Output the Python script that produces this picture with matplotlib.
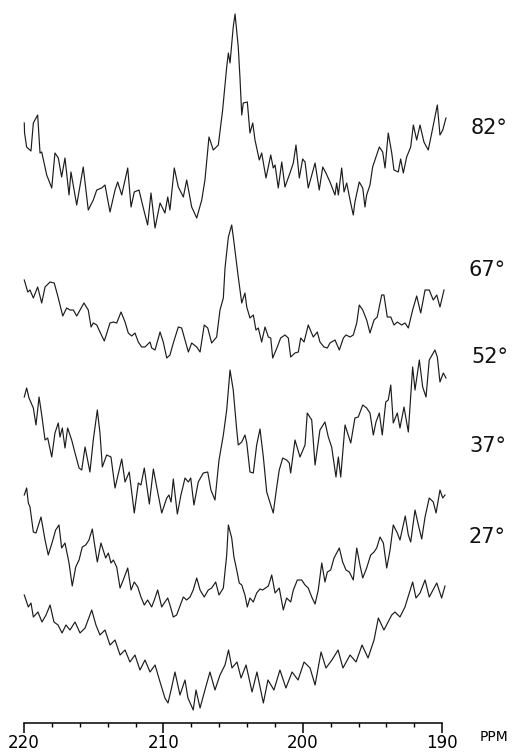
import numpy as np
import matplotlib
matplotlib.use("Agg")
from matplotlib import pyplot as plt
from matplotlib.ticker import MultipleLocator

# 13C spectra (chemical shift in ppm, intensity in arbitrary units)
ppm_82 = [219.98, 219.96, 219.81, 219.50, 219.33, 219.02, 218.85, 218.73, 218.37, 218.01,
          217.78, 217.54, 217.30, 217.06, 216.77, 216.63, 216.22, 215.75, 215.39, 215.03,
          214.78, 214.43, 214.19, 213.83, 213.47, 213.28, 212.99, 212.56, 212.32, 212.09,
          211.75, 211.44, 211.13, 210.89, 210.60, 210.24, 209.89, 209.69, 209.53, 209.22,
          208.93, 208.57, 208.33, 207.97, 207.61, 207.25, 207.02, 206.73, 206.42, 206.06,
          205.75, 205.46, 205.34, 205.22, 204.99, 204.86, 204.63, 204.51, 204.38, 204.27,
          203.98, 203.79, 203.59, 203.43, 203.12, 202.95, 202.64, 202.30, 202.12, 201.99,
          201.76, 201.51, 201.28, 200.92, 200.68, 200.49, 200.25, 200.01, 199.84, 199.61,
          199.12, 198.82, 198.57, 198.34, 198.05, 197.69, 197.57, 197.45, 197.21, 197.04,
          196.85, 196.61, 196.38, 196.26, 195.95, 195.70, 195.54, 195.42, 195.18, 194.99,
          194.51, 194.27, 194.10, 193.87, 193.62, 193.46, 193.15, 192.98, 192.79, 192.55,
          192.26, 192.07, 191.83, 191.59, 191.31, 191.00, 190.75, 190.35, 190.16, 189.96,
          189.73]
int_82 = [112, 102, 88, 84, 112, 120, 82, 83, 60, 47,
          82, 77, 58, 77, 40, 63, 30, 68, 25, 35,
          45, 47, 50, 23, 45, 53, 40, 67, 28, 43,
          45, 27, 10, 42, 7, 32, 22, 38, 25, 67,
          48, 38, 55, 28, 17, 35, 55, 98, 85, 90,
          125, 168, 182, 172, 208, 221, 188, 158, 120, 132,
          133, 102, 112, 95, 75, 82, 57, 80, 67, 70,
          47, 73, 48, 62, 72, 90, 57, 76, 73, 47,
          72, 45, 68, 62, 53, 40, 52, 40, 67, 43,
          52, 35, 20, 33, 53, 47, 28, 40, 50, 68,
          88, 83, 67, 102, 82, 65, 63, 76, 62, 78,
          88, 110, 95, 110, 93, 85, 102, 130, 100, 105,
          117]

ppm_67 = [219.98, 219.73, 219.57, 219.33, 219.02, 218.73, 218.49, 218.13, 217.83, 217.54,
          217.22, 216.94, 216.70, 216.46, 216.22, 215.70, 215.39, 215.19, 215.03, 214.78,
          214.55, 214.24, 213.83, 213.59, 213.35, 213.04, 212.75, 212.52, 212.27, 212.04,
          211.80, 211.56, 211.32, 210.96, 210.84, 210.60, 210.24, 210.01, 209.76, 209.53,
          209.29, 208.93, 208.69, 208.45, 208.21, 207.97, 207.61, 207.37, 207.07, 206.82,
          206.54, 206.18, 205.94, 205.70, 205.58, 205.34, 205.10, 204.94, 204.63, 204.38,
          204.15, 204.02, 203.79, 203.55, 203.36, 203.19, 202.95, 202.71, 202.47, 202.30,
          202.16, 201.83, 201.59, 201.28, 201.04, 200.87, 200.56, 200.32, 200.15, 199.91,
          199.61, 199.25, 198.96, 198.77, 198.48, 198.24, 198.05, 197.69, 197.38, 197.09,
          196.90, 196.61, 196.38, 196.13, 195.95, 195.70, 195.42, 195.18, 194.89, 194.66,
          194.34, 194.18, 193.94, 193.69, 193.46, 193.22, 192.91, 192.67, 192.43, 192.12,
          191.83, 191.54, 191.23, 190.93, 190.64, 190.39, 190.16, 189.87]
int_67 = [85, 73, 75, 67, 78, 62, 78, 83, 82, 67,
          49, 57, 55, 55, 49, 62, 55, 38, 42, 40,
          33, 24, 42, 43, 42, 53, 43, 32, 29, 32,
          23, 18, 18, 23, 17, 15, 33, 23, 7, 10,
          22, 38, 37, 25, 13, 22, 18, 13, 40, 37,
          22, 28, 55, 67, 97, 128, 140, 123, 88, 62,
          72, 58, 47, 50, 35, 37, 23, 38, 28, 27,
          7, 18, 27, 30, 27, 8, 12, 13, 27, 23,
          40, 28, 33, 23, 18, 17, 22, 25, 15, 27,
          30, 28, 30, 42, 60, 55, 45, 32, 45, 48,
          70, 70, 48, 48, 40, 43, 40, 42, 37, 55,
          69, 52, 75, 75, 65, 70, 58, 75]

ppm_52 = [219.98, 219.81, 219.64, 219.33, 219.14, 218.92, 218.73, 218.49, 218.30, 218.01,
          217.78, 217.54, 217.42, 217.25, 217.06, 216.87, 216.58, 216.34, 216.05, 215.86,
          215.62, 215.27, 215.03, 214.74, 214.55, 214.38, 214.07, 213.76, 213.47, 212.99,
          212.75, 212.45, 212.09, 211.80, 211.61, 211.37, 211.01, 210.72, 210.48, 210.12,
          209.76, 209.60, 209.45, 209.29, 209.00, 208.74, 208.45, 208.21, 208.04, 207.81,
          207.50, 207.14, 206.82, 206.59, 206.30, 206.01, 205.70, 205.46, 205.22, 204.99,
          204.74, 204.63, 204.38, 204.15, 204.02, 203.79, 203.55, 203.31, 203.07, 202.83,
          202.59, 202.12, 201.87, 201.69, 201.44, 201.16, 200.97, 200.87, 200.56, 200.20,
          199.84, 199.68, 199.36, 199.12, 198.77, 198.41, 198.17, 197.93, 197.62, 197.45,
          197.28, 196.97, 196.56, 196.26, 196.02, 195.70, 195.42, 195.18, 194.94, 194.75,
          194.51, 194.30, 194.05, 193.87, 193.69, 193.51, 193.22, 193.03, 192.74, 192.43,
          192.12, 191.95, 191.64, 191.40, 191.16, 190.93, 190.52, 190.35, 190.16, 189.92,
          189.73]
int_52 = [123, 132, 122, 112, 95, 123, 105, 80, 82, 63,
          87, 97, 83, 92, 72, 92, 80, 67, 52, 50,
          73, 48, 80, 110, 87, 53, 65, 63, 32, 61,
          38, 48, 7, 37, 35, 52, 16, 51, 33, 7,
          22, 25, 18, 41, 6, 25, 42, 38, 42, 15,
          38, 47, 48, 30, 20, 60, 85, 110, 150, 130,
          90, 75, 78, 85, 77, 48, 47, 75, 91, 63,
          28, 7, 33, 50, 62, 60, 57, 47, 80, 63,
          75, 107, 100, 55, 90, 98, 83, 73, 43, 63,
          43, 95, 77, 102, 103, 115, 112, 107, 85, 98,
          107, 85, 118, 120, 135, 97, 107, 92, 113, 88,
          153, 130, 160, 133, 123, 160, 170, 163, 138, 147,
          142]

ppm_37 = [219.98, 219.81, 219.69, 219.57, 219.33, 219.14, 218.78, 218.49, 218.26, 217.97,
          217.73, 217.49, 217.30, 217.06, 216.77, 216.54, 216.29, 216.05, 215.82, 215.57,
          215.34, 215.10, 214.91, 214.74, 214.48, 214.14, 213.95, 213.76, 213.59, 213.35,
          213.11, 212.88, 212.56, 212.32, 212.09, 211.84, 211.61, 211.37, 211.13, 210.84,
          210.65, 210.41, 210.12, 209.94, 209.69, 209.53, 209.29, 209.05, 208.57, 208.33,
          208.09, 207.86, 207.61, 207.37, 207.07, 206.78, 206.54, 206.25, 206.01, 205.70,
          205.46, 205.34, 205.10, 204.94, 204.74, 204.56, 204.38, 204.15, 203.98, 203.79,
          203.55, 203.31, 203.07, 202.88, 202.47, 202.23, 201.99, 201.69, 201.40, 201.16,
          200.87, 200.68, 200.39, 200.08, 199.84, 199.61, 199.36, 199.12, 198.89, 198.64,
          198.41, 198.24, 198.00, 197.76, 197.38, 197.14, 196.90, 196.66, 196.38, 196.13,
          195.90, 195.70, 195.42, 195.13, 194.89, 194.70, 194.46, 194.22, 193.98, 193.74,
          193.51, 193.22, 193.03, 192.65, 192.43, 192.26, 191.95, 191.71, 191.47, 191.23,
          190.93, 190.64, 190.44, 190.16, 189.96, 189.80]
int_37 = [130, 137, 122, 118, 93, 92, 108, 85, 70, 83,
          95, 100, 77, 82, 62, 39, 58, 65, 78, 80,
          85, 96, 78, 63, 82, 67, 72, 62, 65, 58,
          37, 45, 57, 35, 43, 38, 28, 20, 25, 18,
          25, 35, 18, 22, 27, 20, 8, 10, 28, 25,
          28, 35, 47, 35, 28, 35, 37, 43, 30, 37,
          70, 100, 87, 68, 55, 42, 40, 30, 18, 27,
          23, 32, 36, 35, 39, 50, 32, 37, 15, 27,
          23, 35, 45, 45, 40, 37, 28, 21, 35, 62,
          43, 53, 55, 67, 77, 63, 55, 53, 45, 77,
          60, 47, 57, 70, 73, 77, 88, 82, 57, 75,
          100, 92, 85, 109, 90, 83, 115, 100, 86, 108,
          127, 123, 112, 135, 127, 130]

ppm_27 = [219.98, 219.69, 219.50, 219.33, 219.00, 218.71, 218.42, 218.13, 217.85, 217.56,
          217.27, 216.99, 216.70, 216.34, 215.98, 215.62, 215.14, 214.84, 214.55, 214.19,
          213.83, 213.47, 213.11, 212.75, 212.40, 212.04, 211.68, 211.32, 210.96, 210.60,
          210.24, 209.89, 209.67, 209.45, 209.17, 208.81, 208.45, 208.24, 207.86, 207.66,
          207.37, 207.02, 206.66, 206.30, 205.94, 205.58, 205.33, 205.08, 204.72, 204.43,
          204.07, 203.64, 203.29, 202.83, 202.50, 202.07, 201.64, 201.21, 200.77, 200.34,
          199.91, 199.48, 199.12, 198.69, 198.34, 197.91, 197.47, 197.12, 196.61, 196.18,
          195.75, 195.32, 194.89, 194.58, 194.18, 193.62, 193.39, 193.03, 192.67, 192.12,
          191.88, 191.59, 191.23, 190.93, 190.39, 190.04, 189.80]
int_27 = [120, 108, 112, 98, 103, 93, 100, 110, 93, 90,
          82, 90, 85, 93, 82, 87, 105, 90, 80, 85,
          70, 75, 60, 65, 53, 60, 45, 55, 43, 50,
          33, 17, 12, 25, 43, 20, 35, 17, 5, 25,
          7, 25, 43, 25, 40, 50, 65, 47, 53, 37,
          50, 23, 43, 12, 35, 25, 45, 27, 43, 35,
          53, 47, 30, 63, 47, 55, 65, 47, 60, 53,
          70, 57, 75, 97, 85, 100, 103, 98, 108, 133,
          117, 122, 135, 118, 132, 117, 129]

labels = ["82°", "67°", "52°", "37°", "27°"]

# layout: baseline of each trace and label height, in pixels from the top
offsets = [235, 365, 520, 625, 715]
label_y = [128, 270, 357, 446, 537]
label_x = [471, 469, 471, 469, 469]

W, H = 524, 753
PX_PER_PPM = 13.94
X220 = 24

fig = plt.figure(figsize=(W / 100, H / 100), dpi=100)
ax = fig.add_axes([0, 0, 1, 1])
ax.set_xlim(220 + X220 / PX_PER_PPM, 220 - (W - X220) / PX_PER_PPM)
ax.set_ylim(-H, 0)
ax.axis("off")

spectra = [(ppm_82, int_82), (ppm_67, int_67), (ppm_52, int_52),
           (ppm_37, int_37), (ppm_27, int_27)]
for (p, v), off in zip(spectra, offsets):
    ax.plot(p, np.array(v) - off, color="#1c1c1c", lw=0.85)

for lab, lx, ly in zip(labels, label_x, label_y):
    fig.text(lx / W, 1 - ly / H, lab, fontsize=15, ha="left", va="center", color="#111111")

# ppm scale at the bottom
sax = fig.add_axes([X220 / W, (H - 723) / H, 30 * PX_PER_PPM / W, 0.0001])
sax.set_xlim(220, 190)
sax.patch.set_visible(False)
for s in ["top", "left", "right"]:
    sax.spines[s].set_visible(False)
sax.spines["bottom"].set_linewidth(1.1)
sax.set_yticks([])
sax.xaxis.set_major_locator(MultipleLocator(10))
sax.xaxis.set_minor_locator(MultipleLocator(2))
sax.tick_params(axis="x", which="major", length=7, width=1.1, labelsize=12, pad=1)
sax.tick_params(axis="x", which="minor", length=3, width=1.0)
fig.text(494 / W, 1 - 737 / H, "PPM", fontsize=10, ha="center", va="center")

fig.savefig("out.png", dpi=100)
